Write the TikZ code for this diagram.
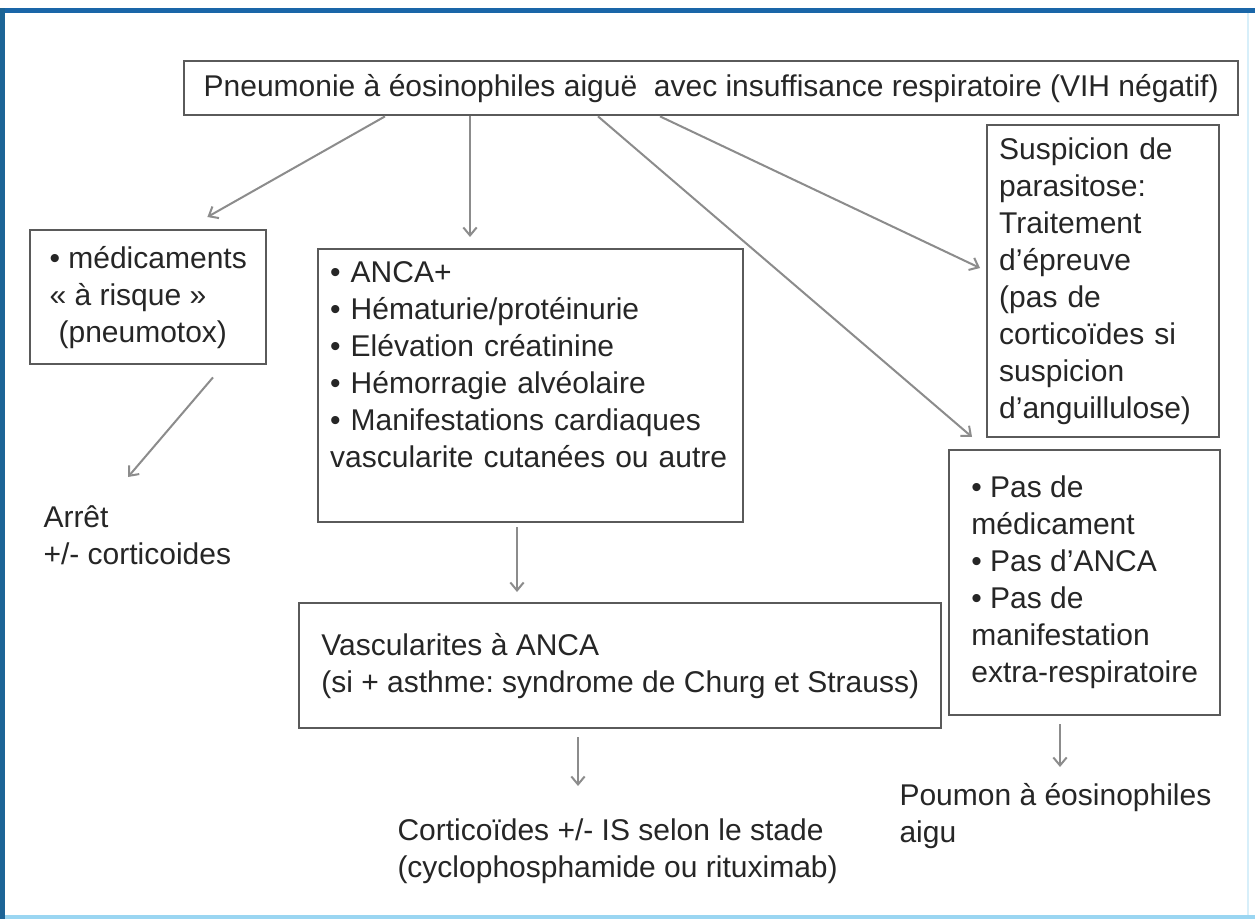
\documentclass[tikz,border=0pt]{standalone}
\usepackage{fontspec}
\setmainfont{Liberation Sans}
\usetikzlibrary{arrows.meta}
\frenchspacing

\definecolor{boxgray}{HTML}{5A5A5A}
\definecolor{arrgray}{HTML}{8C8C8C}
\definecolor{txtgray}{HTML}{262626}
\definecolor{frameblue}{HTML}{1A66A8}
\definecolor{frameleft}{HTML}{1C6496}
\definecolor{framelight}{HTML}{9AD6F2}

\tikzset{every picture/.style={line width=0.75pt},
  box/.style={draw=boxgray, line width=1.8pt, fill=white, text=txtgray, align=left, anchor=north west, font=\fontsize{22.5}{27.75}\selectfont},
  lbl/.style={text=txtgray, align=left, anchor=base west, inner sep=0pt, font=\fontsize{22.5}{27.75}\selectfont},
  arr/.style={draw=arrgray, line width=1.5pt, -{Straight Barb[length=6pt,width=10pt]}}
}

\begin{document}
\begin{tikzpicture}[x=0.75pt,y=0.75pt,yscale=-1,xscale=1]
\useasboundingbox (0,0) rectangle (1255,919);

%Frame
\fill[white] (0,0) rectangle (1255,919);
\fill[frameblue] (0,8) rectangle (1255,13);
\fill[frameleft] (0,8) rectangle (5,919);
\fill[framelight] (5,915) rectangle (1255,919);
\draw[framelight!40, line width=1.5pt] (1248,13) -- (1248,915);

% Text Node
\draw (183,60) node (pneumo) [box, align=center, minimum width=790.5pt, minimum height=40.5pt] {Pneumonie à éosinophiles aiguë\ \ avec insuffisance respiratoire (VIH négatif)};
% Text Node
\draw (29,229) node (medic) [box, minimum width=177pt, minimum height=100.5pt] {• médicaments\\« à risque »\\\hspace*{0.3em}(pneumotox)};
% Text Node
\draw (317,248) node (anca) [box, inner xsep=9pt, text width=300.75pt, text depth=170pt, minimum height=204.75pt] {• ANCA+\\• Hématurie/protéinurie\\• Elévation créatinine\\• Hémorragie alvéolaire\\• Manifestations cardiaques\\vascularite cutanées ou autre};
% Text Node
\draw (986,124) node (susp) [box, inner xsep=9pt, text width=156pt, minimum height=234pt] {Suspicion de\\parasitose:\\Traitement\\d’épreuve\\(pas de\\corticoïdes si\\suspicion\\d’anguillulose)};
% Text Node
\draw (948,449) node (pasde) [box, minimum width=203.25pt, minimum height=198.75pt] {• Pas de\\médicament\\• Pas d’ANCA\\• Pas de\\manifestation\\extra-respiratoire};
% Text Node
\draw (298,602) node (vasc) [box, minimum width=481.5pt, minimum height=93.75pt] {Vascularites à ANCA\\(si + asthme: syndrome de Churg et Strauss)};

% Text Node
\draw (43,564) node (arret) [lbl] {Arrêt\\+/- corticoides};
% Text Node
\draw (397,877) node (cortico) [lbl] {Corticoïdes +/- IS selon le stade\\(cyclophosphamide ou rituximab)};
% Text Node
\draw (899,842) node (poumon) [lbl] {Poumon à éosinophiles\\aigu};

%Arrow ends
\coordinate (e1) at ([xshift=-45pt,yshift=-9pt]medic.north east);
\coordinate (e2) at ([xshift=114.75pt,yshift=-8.25pt]anca.north west);
\coordinate (e3) at ([xshift=18pt,yshift=-9pt]pasde.north west);
\coordinate (e4) at ([xshift=-4.5pt,yshift=108pt]susp.north west);
\coordinate (e5) at ([xshift=63.75pt,yshift=-65.25pt]arret.base west);
\coordinate (e6) at ([xshift=164.25pt,yshift=-7.5pt]vasc.north west);
\coordinate (e7) at ([xshift=135.75pt,yshift=-68.25pt]cortico.base west);
\coordinate (e8) at ([xshift=120.75pt,yshift=-56.25pt]poumon.base west);

%Straight Lines
\draw[arr] ([xshift=151.5pt]pneumo.south west) -- (e1);
\draw[arr] ([xshift=215.25pt]pneumo.south west) -- (e2);
\draw[arr] ([xshift=311.25pt]pneumo.south west) -- (e3);
\draw[arr] ([xshift=357.75pt]pneumo.south west) -- (e4);
\draw[arr] ([xshift=138pt,yshift=9pt]medic.south west) -- (e5);
\draw[arr] ([xshift=150pt,yshift=3pt]anca.south west) -- (e6);
\draw[arr] ([xshift=210pt,yshift=6pt]vasc.south west) -- (e7);
\draw[arr] ([xshift=84pt,yshift=6pt]pasde.south west) -- (e8);

\end{tikzpicture}
\end{document}
